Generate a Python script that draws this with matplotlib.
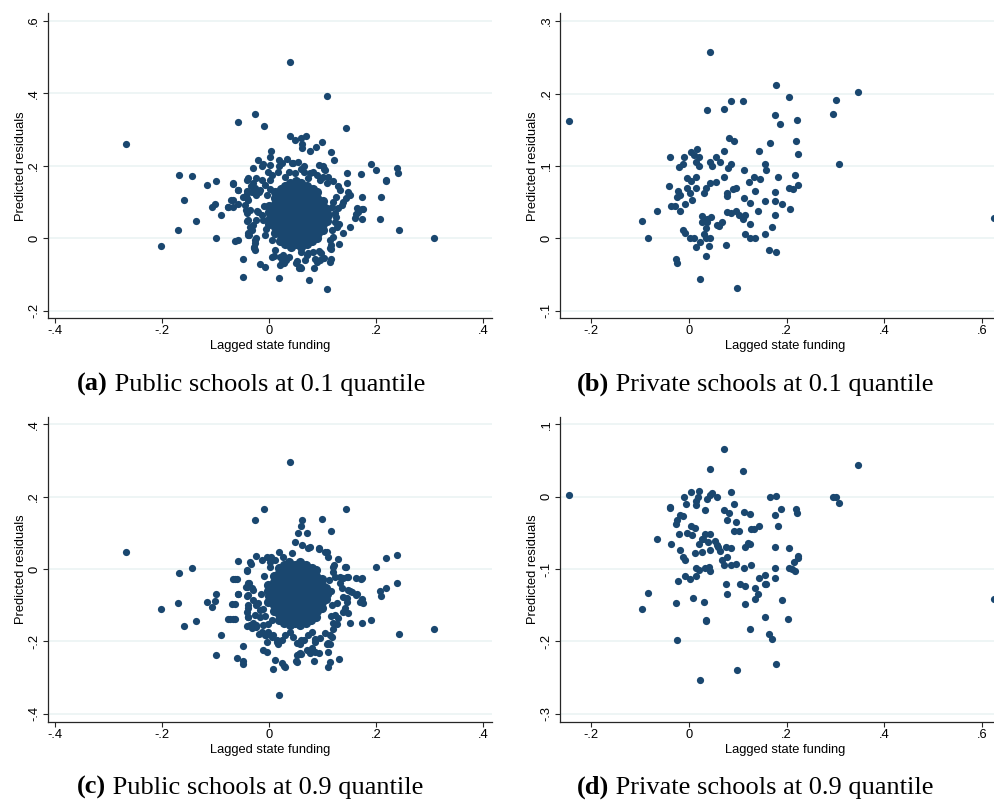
import numpy as np
import matplotlib
matplotlib.use('Agg')
import matplotlib.pyplot as plt

# ---- data (x = lagged state funding, y = predicted residual) ----

# (a) public schools, 0.1 quantile: scattered points around the cloud
pub10_outer = [
    (0.039, 0.486), (0.108, 0.392), (-0.026, 0.344), (-0.059, 0.321), (-0.009, 0.310), (0.144, 0.306),
    (-0.268, 0.260), (0.039, 0.283), (0.069, 0.283), (0.048, 0.271), (0.059, 0.278), (0.062, 0.261),
    (0.062, 0.249), (0.088, 0.253), (0.099, 0.265), (0.076, 0.242), (0.115, 0.237), (0.004, 0.242),
    (0.121, 0.216), (-0.021, 0.215), (0.001, 0.224), (0.019, 0.216), (0.033, 0.219), (0.045, 0.209),
    (0.053, 0.210), (0.018, 0.200), (-0.014, 0.200), (-0.031, 0.195), (0.092, 0.203), (0.101, 0.201),
    (0.102, 0.192), (0.191, 0.206), (0.200, 0.188), (0.238, 0.194), (0.241, 0.179), (0.218, 0.161),
    (0.219, 0.157), (0.171, 0.178), (0.146, 0.180), (0.146, 0.154), (0.209, 0.115), (0.173, 0.114),
    (0.175, 0.081), (0.207, 0.053), (0.243, 0.023), (0.307, 0.002), (0.173, 0.052), (0.162, 0.068),
    (0.164, 0.083), (0.151, 0.031), (0.138, 0.015), (0.131, -0.015), (-0.169, 0.174), (-0.145, 0.172),
    (-0.117, 0.148), (-0.099, 0.157), (-0.068, 0.151), (-0.059, 0.134), (-0.160, 0.106), (-0.107, 0.087),
    (-0.101, 0.095), (-0.090, 0.064), (-0.137, 0.047), (-0.171, 0.024), (-0.203, -0.020), (-0.100, 0.000),
    (-0.077, 0.087), (-0.067, 0.106), (-0.059, 0.095), (-0.065, -0.008), (-0.059, -0.005), (-0.042, 0.161),
    (-0.035, 0.145), (-0.041, 0.132), (-0.042, 0.110), (-0.044, 0.078), (-0.042, 0.048), (-0.040, 0.014),
    (-0.037, 0.009), (-0.034, 0.029), (-0.026, 0.124), (-0.020, 0.129), (-0.023, 0.076), (-0.027, -0.006),
    (-0.026, -0.031), (-0.028, -0.023), (-0.049, -0.056), (-0.050, -0.106), (-0.017, -0.070), (-0.008, -0.080),
    (0.006, -0.051), (0.019, -0.110), (0.023, -0.066), (0.028, -0.069), (0.037, -0.053), (0.049, -0.067),
    (0.056, -0.082), (0.059, -0.082), (0.074, -0.114), (0.083, -0.083), (0.085, -0.057), (0.095, -0.060),
    (0.108, -0.139), (0.113, -0.066), (0.115, -0.057), (0.115, -0.030), (0.060, -0.037), (0.073, -0.040),
    (0.093, -0.034), (0.065, 0.200), (0.059, 0.191), (0.064, 0.184), (-0.012, 0.204), (0.002, 0.202),
    (0.104, 0.190), (0.120, 0.158), (0.129, 0.144), (0.132, 0.133), (0.148, 0.129), (0.151, 0.120),
    (0.143, 0.110), (0.138, 0.101), (0.135, 0.092), (0.129, 0.083), (0.166, 0.073), (0.173, 0.080),
    (0.160, 0.055), (0.123, 0.046), (0.126, 0.032), (0.117, 0.023), (0.120, 0.004), (0.113, -0.005),
    (0.113, -0.028), (0.116, -0.018), (0.097, -0.041), (0.103, -0.055), (0.089, -0.065), (0.082, -0.037),
    (0.070, -0.046), (0.067, -0.060), (0.051, -0.064), (0.057, -0.078), (0.026, -0.046), (0.031, -0.060),
    (0.020, -0.051), (0.008, -0.049), (0.011, -0.032), (0.020, -0.074), (0.026, -0.067), (-0.028, -0.028),
    (-0.027, -0.014), (-0.024, 0.000), (-0.039, 0.009), (-0.033, 0.023), (-0.036, 0.032), (-0.030, 0.037),
    (-0.024, 0.051), (-0.014, 0.064), (-0.021, 0.073), (-0.039, 0.051), (-0.042, 0.069), (-0.036, 0.078),
    (-0.045, 0.092), (-0.039, 0.106), (-0.049, 0.115), (-0.042, 0.124), (-0.067, 0.152), (-0.058, 0.133),
    (-0.072, 0.106), (-0.067, 0.087), (-0.077, 0.086), (-0.039, 0.166), (-0.031, 0.152), (-0.024, 0.166),
    (-0.014, 0.161), (-0.008, 0.147), (-0.027, 0.138), (-0.017, 0.133), (-0.024, 0.120), (-0.033, 0.129),
    (-0.002, 0.184), (0.005, 0.175), (0.001, 0.161), (0.023, 0.207), (0.017, 0.184), (0.029, 0.170),
    (0.042, 0.207), (0.036, 0.184), (0.048, 0.180), (0.076, 0.180), (0.082, 0.184), (0.073, 0.166),
    (0.089, 0.175), (0.095, 0.161), (0.101, 0.170), (0.110, 0.170), (0.107, 0.152), (0.117, 0.087),
    (0.123, 0.071), (0.125, 0.060), (0.130, 0.040), (0.120, 0.100), (0.125, 0.115), (-0.008, 0.010),
    (-0.005, 0.120), (0.002, 0.135), (0.005, -0.005), (-0.010, 0.090), (-0.012, 0.050), (-0.006, 0.025),
]
# (a) the solid core of the cloud
pub10_core = [
    (0.000, 0.040), (0.001, 0.056), (0.000, 0.072), (-0.001, 0.088),
    (0.010, 0.016), (0.011, 0.032), (0.010, 0.048), (0.009, 0.064), (0.010, 0.080), (0.011, 0.096), (0.010, 0.112), (0.010, 0.128),
    (0.020, -0.008), (0.021, 0.008), (0.020, 0.024), (0.019, 0.040), (0.020, 0.056), (0.021, 0.072), (0.020, 0.088), (0.019, 0.104), (0.020, 0.120), (0.021, 0.136),
    (0.030, -0.016), (0.031, 0.000), (0.030, 0.016), (0.029, 0.032), (0.030, 0.048), (0.031, 0.064), (0.030, 0.080), (0.029, 0.096), (0.030, 0.112), (0.031, 0.128), (0.030, 0.144),
    (0.040, -0.024), (0.041, -0.008), (0.040, 0.008), (0.039, 0.024), (0.040, 0.040), (0.041, 0.056), (0.040, 0.072), (0.039, 0.088), (0.040, 0.104), (0.041, 0.120), (0.040, 0.136), (0.039, 0.152),
    (0.050, -0.016), (0.051, 0.000), (0.050, 0.016), (0.049, 0.032), (0.050, 0.048), (0.051, 0.064), (0.050, 0.080), (0.049, 0.096), (0.050, 0.112), (0.051, 0.128), (0.050, 0.144), (0.049, 0.158),
    (0.060, -0.024), (0.061, -0.008), (0.060, 0.008), (0.059, 0.024), (0.060, 0.040), (0.061, 0.056), (0.060, 0.072), (0.059, 0.088), (0.060, 0.104), (0.061, 0.120), (0.060, 0.136), (0.059, 0.152),
    (0.070, -0.016), (0.071, 0.000), (0.070, 0.016), (0.069, 0.032), (0.070, 0.048), (0.071, 0.064), (0.070, 0.080), (0.069, 0.096), (0.070, 0.112), (0.071, 0.128), (0.070, 0.144),
    (0.080, -0.008), (0.081, 0.008), (0.080, 0.024), (0.079, 0.040), (0.080, 0.056), (0.081, 0.072), (0.080, 0.088), (0.079, 0.104), (0.080, 0.120), (0.081, 0.136),
    (0.090, 0.000), (0.091, 0.016), (0.090, 0.032), (0.089, 0.048), (0.090, 0.064), (0.091, 0.080), (0.090, 0.096), (0.089, 0.112), (0.090, 0.128),
    (0.100, 0.024), (0.101, 0.040), (0.100, 0.056), (0.099, 0.072), (0.100, 0.088), (0.101, 0.104),
    (0.108, 0.048), (0.109, 0.064), (0.108, 0.080),
]

# (c) public schools, 0.9 quantile
pub90_outer = [
    (0.039, 0.297), (-0.009, 0.165), (0.144, 0.166), (-0.026, 0.135), (0.099, 0.138), (0.062, 0.135),
    (0.059, 0.120), (0.115, 0.105), (0.054, 0.100), (0.070, 0.100), (0.048, 0.075), (0.062, 0.066),
    (0.076, 0.060), (0.093, 0.056), (-0.268, 0.048), (0.018, 0.048), (0.108, 0.046), (0.042, 0.045),
    (-0.024, 0.037), (0.003, 0.034), (0.238, 0.038), (0.219, 0.030), (0.129, 0.029), (0.200, 0.005),
    (0.143, 0.005), (0.121, 0.011), (-0.145, 0.004), (-0.059, 0.022), (-0.035, 0.014), (-0.169, -0.012),
    (-0.042, -0.005), (0.120, -0.007), (0.207, -0.061), (0.209, -0.075), (0.218, -0.053), (0.238, -0.040),
    (0.171, -0.028), (0.162, -0.026), (0.145, -0.023), (0.132, -0.023), (0.151, -0.060), (0.164, -0.070),
    (0.173, -0.084), (0.175, -0.095), (0.173, -0.148), (0.191, -0.141), (0.243, -0.180), (0.307, -0.165),
    (0.151, -0.150), (0.145, -0.081), (0.141, -0.109), (0.148, -0.123), (0.127, -0.152), (0.117, -0.187),
    (0.113, -0.208), (0.107, -0.208), (0.130, -0.249), (0.113, -0.256), (0.109, -0.272), (0.083, -0.254),
    (0.093, -0.233), (0.076, -0.233), (0.082, -0.226), (0.070, -0.224), (0.085, -0.194), (0.060, -0.196),
    (0.057, -0.206), (0.055, -0.236), (0.059, -0.236), (0.050, -0.254), (0.023, -0.261), (0.028, -0.267),
    (0.007, -0.276), (0.019, -0.348), (0.017, -0.208), (0.015, -0.196), (-0.005, -0.203), (-0.006, -0.182),
    (-0.019, -0.180), (-0.050, -0.212), (-0.049, -0.264), (-0.060, -0.247), (-0.100, -0.237), (-0.090, -0.183),
    (-0.077, -0.137), (-0.067, -0.137), (-0.069, -0.098), (-0.059, -0.070), (-0.067, -0.029), (-0.060, -0.028),
    (-0.100, -0.070), (-0.101, -0.088), (-0.107, -0.105), (-0.117, -0.092), (-0.137, -0.144), (-0.160, -0.158),
    (-0.171, -0.093), (-0.203, -0.110), (-0.042, -0.157), (-0.033, -0.162), (-0.024, -0.155), (-0.039, -0.134),
    (-0.042, -0.118), (-0.039, -0.107), (-0.042, -0.076), (-0.044, -0.049), (-0.037, -0.040), (-0.030, -0.058),
    (-0.022, -0.095), (-0.017, -0.132), (-0.011, -0.155), (-0.002, -0.153), (0.007, -0.182), (0.073, 0.057),
    (0.026, 0.034), (0.011, 0.025), (0.092, 0.057), (0.104, 0.048), (0.110, 0.034), (-0.014, 0.025),
    (-0.005, 0.034), (0.001, 0.020), (-0.036, 0.020), (-0.042, -0.003), (-0.064, -0.029), (-0.039, -0.040),
    (-0.033, -0.053), (-0.042, -0.049), (-0.058, -0.070), (-0.039, -0.072), (-0.030, -0.086), (-0.040, -0.100),
    (-0.064, -0.098), (-0.024, -0.100), (-0.017, -0.113), (-0.027, -0.127), (-0.073, -0.139), (-0.065, -0.139),
    (-0.039, -0.132), (-0.036, -0.155), (-0.030, -0.150), (-0.024, -0.160), (-0.014, -0.173), (-0.008, -0.182),
    (-0.002, -0.173), (0.005, -0.187), (0.014, -0.201), (0.023, -0.197), (0.029, -0.182), (0.039, -0.173),
    (0.045, -0.187), (0.051, -0.205), (0.064, -0.196), (0.073, -0.182), (0.079, -0.173), (0.085, -0.201),
    (0.095, -0.192), (0.104, -0.178), (0.113, -0.182), (0.110, -0.205), (0.120, -0.150), (0.123, -0.127),
    (0.129, -0.136), (0.138, -0.118), (0.138, -0.077), (0.145, -0.090), (0.126, -0.095), (0.135, -0.053),
    (0.148, -0.058), (0.132, -0.040), (0.123, -0.021), (0.138, -0.026), (0.148, -0.021), (0.120, 0.006),
    (0.141, 0.006), (0.170, -0.090), (0.173, -0.026), (0.154, -0.063), (0.163, -0.072), (0.110, -0.229),
    (0.085, -0.229), (0.079, -0.219), (0.051, -0.238), (0.057, -0.233), (-0.011, -0.224), (-0.005, -0.229),
    (0.011, -0.252), (0.029, -0.270), (0.051, -0.256), (-0.049, -0.254), (0.115, -0.060), (0.118, -0.100),
    (0.112, -0.030), (0.115, -0.130), (0.120, -0.165), (-0.010, -0.020), (-0.012, -0.110), (-0.008, -0.130),
    (-0.015, -0.070), (0.002, 0.005), (0.005, -0.140),
]
pub90_core = [
    (-0.002, -0.092), (-0.001, -0.076), (-0.002, -0.060), (-0.003, -0.044),
    (0.008, -0.116), (0.009, -0.100), (0.008, -0.084), (0.007, -0.068), (0.008, -0.052), (0.009, -0.036), (0.008, -0.020),
    (0.018, -0.140), (0.019, -0.124), (0.018, -0.108), (0.017, -0.092), (0.018, -0.076), (0.019, -0.060), (0.018, -0.044), (0.017, -0.028), (0.018, -0.012), (0.019, 0.004),
    (0.028, -0.148), (0.029, -0.132), (0.028, -0.116), (0.027, -0.100), (0.028, -0.084), (0.029, -0.068), (0.028, -0.052), (0.027, -0.036), (0.028, -0.020), (0.029, -0.004), (0.028, 0.012),
    (0.038, -0.156), (0.039, -0.140), (0.038, -0.124), (0.037, -0.108), (0.038, -0.092), (0.039, -0.076), (0.038, -0.060), (0.037, -0.044), (0.038, -0.028), (0.039, -0.012), (0.038, 0.004), (0.037, 0.018),
    (0.048, -0.148), (0.049, -0.132), (0.048, -0.116), (0.047, -0.100), (0.048, -0.084), (0.049, -0.068), (0.048, -0.052), (0.047, -0.036), (0.048, -0.020), (0.049, -0.004), (0.048, 0.012),
    (0.058, -0.156), (0.059, -0.140), (0.058, -0.124), (0.057, -0.108), (0.058, -0.092), (0.059, -0.076), (0.058, -0.060), (0.057, -0.044), (0.058, -0.028), (0.059, -0.012), (0.058, 0.004), (0.057, 0.020),
    (0.068, -0.148), (0.069, -0.132), (0.068, -0.116), (0.067, -0.100), (0.068, -0.084), (0.069, -0.068), (0.068, -0.052), (0.067, -0.036), (0.068, -0.020), (0.069, -0.004), (0.068, 0.012),
    (0.078, -0.140), (0.079, -0.124), (0.078, -0.108), (0.077, -0.092), (0.078, -0.076), (0.079, -0.060), (0.078, -0.044), (0.077, -0.028), (0.078, -0.012), (0.079, 0.004),
    (0.088, -0.132), (0.089, -0.116), (0.088, -0.100), (0.087, -0.084), (0.088, -0.068), (0.089, -0.052), (0.088, -0.036), (0.087, -0.020), (0.088, -0.004),
    (0.098, -0.108), (0.099, -0.092), (0.098, -0.076), (0.097, -0.060), (0.098, -0.044), (0.099, -0.028),
    (0.106, -0.084), (0.107, -0.068), (0.106, -0.052),
]

# (b) private schools, 0.1 quantile
priv10 = [
    (-0.245, 0.162), (0.043, 0.257), (0.178, 0.212), (0.346, 0.202), (0.205, 0.195), (0.301, 0.191),
    (0.085, 0.189), (0.110, 0.189), (0.037, 0.177), (0.071, 0.178), (0.294, 0.172), (0.176, 0.170),
    (0.222, 0.163), (0.187, 0.158), (0.081, 0.138), (0.092, 0.134), (0.220, 0.135), (0.166, 0.131),
    (0.072, 0.121), (0.143, 0.120), (0.224, 0.116), (0.016, 0.124), (0.005, 0.119), (0.010, 0.115),
    (0.020, 0.112), (-0.038, 0.112), (-0.010, 0.112), (0.056, 0.112), (0.014, 0.106), (0.044, 0.105),
    (0.047, 0.100), (0.064, 0.105), (0.020, 0.100), (-0.013, 0.102), (-0.020, 0.098), (0.085, 0.102),
    (0.079, 0.097), (0.156, 0.102), (0.158, 0.094), (0.307, 0.103), (0.113, 0.094), (0.216, 0.087),
    (-0.005, 0.083), (0.014, 0.084), (0.005, 0.079), (0.071, 0.085), (0.134, 0.085), (0.145, 0.082),
    (0.182, 0.084), (0.123, 0.078), (0.044, 0.077), (0.055, 0.078), (0.224, 0.074), (-0.040, 0.072),
    (0.096, 0.070), (0.091, 0.068), (0.204, 0.070), (0.212, 0.068), (-0.004, 0.069), (0.015, 0.069),
    (0.034, 0.070), (-0.023, 0.065), (0.002, 0.063), (0.031, 0.063), (0.135, 0.066), (0.078, 0.063),
    (0.176, 0.064), (-0.018, 0.060), (-0.024, 0.057), (0.078, 0.059), (0.112, 0.056), (0.007, 0.053),
    (0.156, 0.052), (0.176, 0.051), (0.125, 0.049), (0.191, 0.047), (-0.036, 0.045), (-0.029, 0.045),
    (-0.008, 0.047), (0.207, 0.041), (-0.065, 0.038), (-0.018, 0.038), (0.078, 0.037), (0.097, 0.038),
    (0.142, 0.038), (0.085, 0.035), (0.027, 0.031), (0.103, 0.032), (0.115, 0.032), (0.176, 0.032),
    (0.045, 0.029), (0.036, 0.026), (0.111, 0.027), (0.027, 0.022), (0.068, 0.022), (0.037, 0.022),
    (0.125, 0.020), (0.058, 0.018), (0.062, 0.017), (-0.096, 0.024), (0.034, 0.014), (0.170, 0.016),
    (-0.012, 0.012), (-0.009, 0.007), (0.031, 0.006), (0.115, 0.006), (0.156, 0.006), (-0.083, 0.000),
    (0.002, 0.000), (0.010, 0.000), (0.034, 0.001), (0.044, 0.000), (0.125, 0.000), (0.136, 0.001),
    (0.022, -0.005), (0.014, -0.012), (0.041, -0.011), (0.075, -0.009), (0.163, -0.016), (0.179, -0.019),
    (0.034, -0.024), (-0.026, -0.029), (-0.024, -0.034), (0.022, -0.056), (0.098, -0.069), (0.625, 0.028),
]

# (d) private schools, 0.9 quantile
priv90 = [
    (-0.245, 0.003), (0.071, 0.066), (0.043, 0.038), (0.110, 0.035), (0.346, 0.044), (0.005, 0.007),
    (0.020, 0.008), (0.085, 0.007), (-0.010, 0.000), (0.019, 0.000), (0.047, 0.005), (0.044, 0.002),
    (0.057, 0.000), (0.166, 0.000), (0.178, 0.001), (0.294, 0.000), (0.301, 0.000), (0.307, -0.009),
    (0.036, -0.003), (-0.007, -0.010), (0.014, -0.011), (0.015, -0.006), (0.092, -0.010), (-0.039, -0.014),
    (-0.038, -0.016), (0.033, -0.018), (0.072, -0.018), (0.188, -0.017), (0.220, -0.017), (0.222, -0.023),
    (0.113, -0.021), (0.081, -0.023), (0.125, -0.024), (0.176, -0.025), (-0.018, -0.025), (-0.012, -0.026),
    (-0.024, -0.032), (0.078, -0.032), (0.096, -0.035), (-0.027, -0.038), (0.004, -0.041), (0.012, -0.043),
    (0.126, -0.045), (0.134, -0.044), (0.144, -0.041), (0.182, -0.041), (0.092, -0.047), (0.103, -0.047),
    (-0.005, -0.050), (-0.020, -0.052), (0.007, -0.053), (0.032, -0.051), (0.044, -0.051), (-0.065, -0.058),
    (0.026, -0.059), (0.028, -0.058), (0.054, -0.061), (-0.036, -0.065), (0.021, -0.065), (0.039, -0.062),
    (0.058, -0.067), (0.060, -0.070), (0.121, -0.064), (0.125, -0.066), (0.115, -0.069), (0.176, -0.070),
    (0.205, -0.071), (0.076, -0.069), (0.086, -0.071), (-0.018, -0.073), (0.026, -0.076), (0.043, -0.074),
    (0.064, -0.075), (0.012, -0.078), (-0.012, -0.084), (-0.008, -0.087), (0.224, -0.082), (0.224, -0.085),
    (0.214, -0.090), (0.068, -0.088), (0.078, -0.084), (0.072, -0.094), (0.086, -0.094), (0.097, -0.093),
    (0.127, -0.094), (0.041, -0.097), (0.032, -0.099), (0.014, -0.098), (0.020, -0.101), (0.044, -0.102),
    (0.112, -0.098), (0.176, -0.098), (0.205, -0.098), (0.210, -0.100), (0.216, -0.102), (-0.009, -0.109),
    (0.014, -0.110), (0.156, -0.108), (0.176, -0.113), (0.143, -0.113), (-0.023, -0.116), (0.002, -0.114),
    (0.156, -0.120), (0.158, -0.121), (0.075, -0.121), (0.104, -0.121), (0.115, -0.124), (0.135, -0.126),
    (0.142, -0.134), (0.078, -0.135), (-0.083, -0.133), (0.009, -0.140), (0.135, -0.141), (0.191, -0.143),
    (0.031, -0.145), (-0.026, -0.147), (0.115, -0.148), (-0.096, -0.155), (0.155, -0.166), (0.203, -0.169),
    (0.034, -0.170), (0.034, -0.172), (0.125, -0.183), (0.163, -0.190), (0.169, -0.197), (-0.024, -0.198),
    (0.178, -0.231), (0.098, -0.239), (0.022, -0.254), (0.625, -0.142),
]

public_xticks = [-0.4, -0.2, 0.0, 0.2, 0.4]
private_xticks = [-0.2, 0.0, 0.2, 0.4, 0.6]
yticks_a = [-0.2, 0.0, 0.2, 0.4, 0.6]
yticks_b = [-0.1, 0.0, 0.1, 0.2, 0.3]
yticks_c = [-0.4, -0.2, 0.0, 0.2, 0.4]
yticks_d = [-0.3, -0.2, -0.1, 0.0, 0.1]

captions = [('(a)', ' Public schools at 0.1 quantile'),
            ('(b)', ' Private schools at 0.1 quantile'),
            ('(c)', ' Public schools at 0.9 quantile'),
            ('(d)', ' Private schools at 0.9 quantile')]

# ---- styling ----
W, H = 994, 800
NAVY = '#1a476f'
GRID = '#eaf2f3'
AXC = '#262626'
SANS = ['Liberation Sans', 'DejaVu Sans']
SERIF = ['Liberation Serif', 'DejaVu Serif']
FS = 9.3

fig = plt.figure(figsize=(W / 100, H / 100), dpi=100)
fig.patch.set_facecolor('white')


def stata_fmt(v):
    if abs(v) < 1e-9:
        return '0'
    return f'{v:.1f}'.replace('0.', '.')


def panel(box, outer, core, xlim, ylim, xticks, yticks):
    # box = left, right, top, bottom in pixels
    l, r, t, b = box
    ax = fig.add_axes([l / W, 1 - b / H, (r - l) / W, (b - t) / H])
    for v in yticks:
        ax.axhline(v, color=GRID, lw=1.1, zorder=0)
    xs, ys = np.array(outer).T
    ax.plot(xs, ys, 'o', ms=5.2, mew=0, color=NAVY, zorder=3)
    if core:
        # the packed middle of the cloud reads as one solid blob
        cx, cy = np.array(core).T
        ax.plot(cx, cy, 'o', ms=6.6, mew=0, color=NAVY, zorder=3)
    ax.set_xlim(xlim)
    ax.set_ylim(ylim)

    for s in ['top', 'right']:
        ax.spines[s].set_visible(False)
    for s in ['left', 'bottom']:
        ax.spines[s].set_color(AXC)
        ax.spines[s].set_linewidth(0.9)

    ax.set_xticks(xticks)
    ax.set_xticklabels([stata_fmt(v) for v in xticks], family=SANS, fontsize=FS)
    ax.set_yticks(yticks)
    ax.set_yticklabels([stata_fmt(v) for v in yticks], family=SANS, fontsize=FS,
                       rotation=90, va='center')
    ax.tick_params(axis='both', direction='out', length=3.6, width=0.8, color=AXC)
    ax.tick_params(axis='x', pad=1.5)
    ax.tick_params(axis='y', pad=1.8)

    ax.set_xlabel('Lagged state funding', family=SANS, fontsize=FS)
    ax.xaxis.set_label_coords(0.5, -28.0 / (b - t))
    ax.xaxis.label.set_va('center')
    ax.set_ylabel('Predicted residuals', family=SANS, fontsize=FS)
    ax.yaxis.set_label_coords(-27.0 / (r - l), 0.5)
    ax.yaxis.label.set_va('center')
    return ax


axes = [
    panel((47.7, 492.0, 13.3, 318.3), pub10_outer, pub10_core, (-0.4142, 0.4163), (-0.221, 0.6215),
          public_xticks, yticks_a),
    panel((560.3, 1010.0, 13.3, 318.3), priv10, None, (-0.2634, 0.657), (-0.1105, 0.3108),
          private_xticks, yticks_b),
    panel((47.7, 492.0, 416.7, 721.7), pub90_outer, pub90_core, (-0.4142, 0.4163), (-0.4222, 0.4211),
          public_xticks, yticks_c),
    panel((560.3, 1010.0, 416.7, 721.7), priv90, None, (-0.2634, 0.657), (-0.311, 0.1106),
          private_xticks, yticks_d),
]

# captions under each panel: bold letter, then plain text
cap_pos = [(77, 391), (577, 391), (77, 794), (577, 794)]
for (tag, rest), (cx, cy) in zip(captions, cap_pos):
    t1 = fig.text(cx / W, 1 - cy / H, tag, family=SERIF, fontsize=19, fontweight='bold',
                  ha='left', va='baseline')
    fig.axes[0].annotate(rest, xy=(1, 0), xycoords=t1, family=SERIF, fontsize=19,
                         ha='left', va='bottom', annotation_clip=False)

fig.savefig('out.png', dpi=100)
